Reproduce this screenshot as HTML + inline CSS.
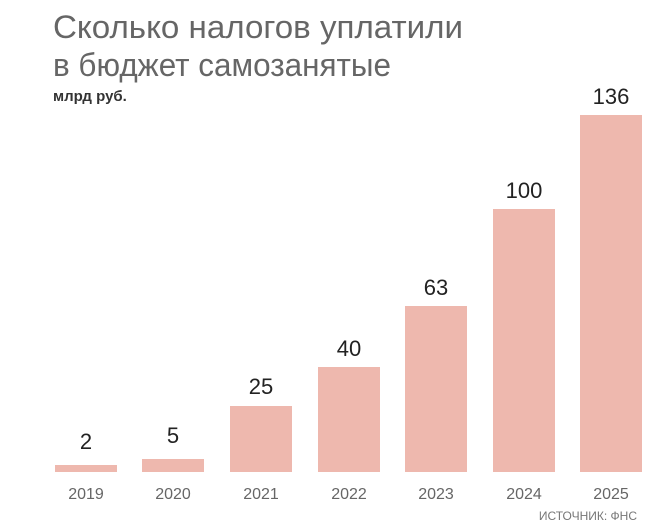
<!DOCTYPE html>
<html><head><meta charset="utf-8"><style>body{margin:0;background:#fff}svg{display:block}</style></head>
<body>
<svg width="648" height="530" xmlns="http://www.w3.org/2000/svg" font-family="Liberation Sans, sans-serif">
<text x="53" y="38" font-size="32" fill="#666" textLength="410" lengthAdjust="spacingAndGlyphs">Сколько налогов уплатили</text>
<text x="53" y="76" font-size="32" fill="#666" textLength="338" lengthAdjust="spacingAndGlyphs">в бюджет самозанятые</text>
<text x="53" y="101" font-size="15" font-weight="bold" fill="#333">млрд руб.</text>
<g fill="#eeb8ae">
<rect x="55" y="465" width="62" height="7"/>
<rect x="142" y="459" width="62" height="13"/>
<rect x="230" y="406" width="62" height="66"/>
<rect x="318" y="367" width="62" height="105"/>
<rect x="405" y="306" width="62" height="166"/>
<rect x="493" y="209" width="62" height="263"/>
<rect x="580" y="115" width="62" height="357"/>
</g>
<g font-size="22" fill="#222" text-anchor="middle">
<text x="86" y="449">2</text>
<text x="173" y="443">5</text>
<text x="261" y="394">25</text>
<text x="349" y="356">40</text>
<text x="436" y="295">63</text>
<text x="524" y="198">100</text>
<text x="611" y="104">136</text>
</g>
<g font-size="16" fill="#666" text-anchor="middle">
<text x="86" y="499">2019</text>
<text x="173" y="499">2020</text>
<text x="261" y="499">2021</text>
<text x="349" y="499">2022</text>
<text x="436" y="499">2023</text>
<text x="524" y="499">2024</text>
<text x="611" y="499">2025</text>
</g>
<text x="637" y="520" font-size="12" fill="#777" text-anchor="end">ИСТОЧНИК: ФНС</text>
</svg>
</body></html>
